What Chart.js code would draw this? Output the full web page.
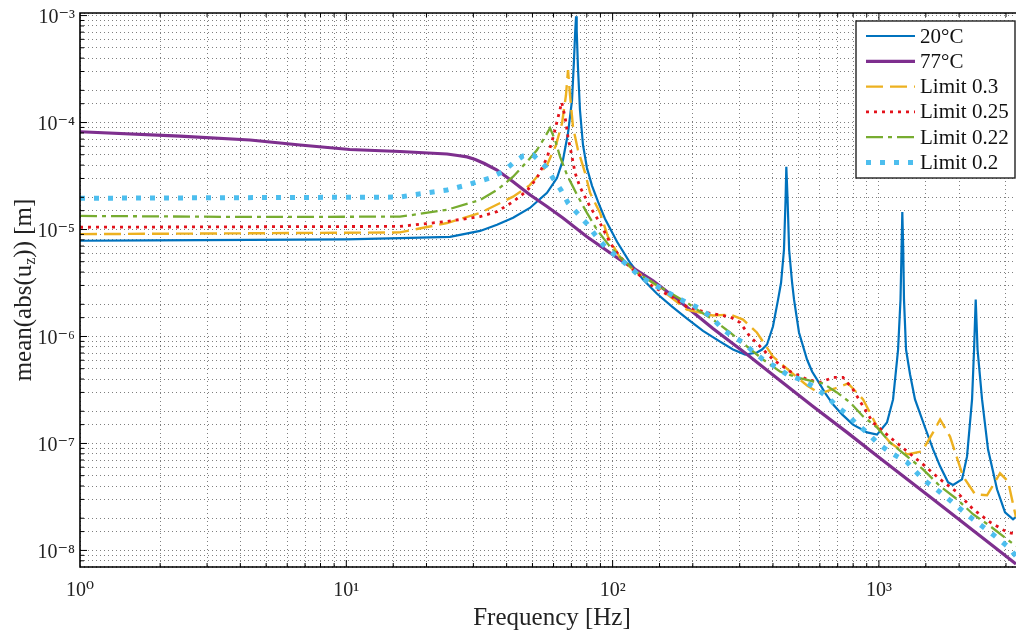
<!DOCTYPE html>
<html><head><meta charset="utf-8">
<script src="https://cdn.jsdelivr.net/npm/chart.js@4"></script>
<style>html,body{margin:0;padding:0;background:#fff}canvas{display:block}</style>
</head><body>
<canvas id="c" width="1016" height="634"></canvas>
<script>
// ---- data ----
const seriesLabels = ['20°C', '77°C', 'Limit 0.3', 'Limit 0.25', 'Limit 0.22', 'Limit 0.2'];

const f20 = [1, 1.83, 4.35, 10, 15.9, 24.5, 31.8, 36.8, 42.3, 48.9, 56.7, 61.8, 65.1, 68.0, 70.4, 71.6, 72.4, 72.9, 73.3, 74.1, 75.4, 77.4, 80.1, 83.7, 88.2, 93.6, 103.9, 116.3, 130.1, 146.8, 167.2, 190.3, 218.5, 253.2, 283.2, 314.4, 348.5, 364, 380, 400, 418, 429, 440, 446, 449, 454, 460, 472, 480, 501, 537, 561, 601, 633, 672, 727, 799, 864, 902, 984, 1072, 1130, 1180, 1205, 1216, 1224, 1234, 1242, 1264, 1309, 1366, 1490, 1597, 1697, 1818, 1898, 2051, 2142, 2237, 2276, 2309, 2346, 2439, 2568, 2776, 2975, 3188, 3271];
const v20 = [7.85e-6, 7.9e-6, 8.0e-6, 8.1e-6, 8.3e-6, 8.55e-6, 9.7e-6, 1.11e-5, 1.29e-5, 1.59e-5, 2.2e-5, 3.03e-5, 4.47e-5, 7.98e-5, 1.62e-4, 3.83e-4, 7.29e-4, 9.85e-4, 7.29e-4, 3.30e-4, 1.31e-4, 6.17e-5, 3.76e-5, 2.56e-5, 1.81e-5, 1.26e-5, 7.68e-6, 4.89e-6, 3.40e-6, 2.51e-6, 1.90e-6, 1.47e-6, 1.13e-6, 8.96e-7, 7.55e-7, 6.78e-7, 7.08e-7, 7.55e-7, 8.41e-7, 1.24e-6, 2.21e-6, 3.18e-6, 6.47e-6, 1.89e-5, 3.85e-5, 1.89e-5, 6.47e-6, 3.18e-6, 2.21e-6, 1.09e-6, 6.09e-7, 4.71e-7, 3.57e-7, 2.87e-7, 2.32e-7, 1.87e-7, 1.5e-7, 1.35e-7, 1.27e-7, 1.21e-7, 1.57e-7, 2.58e-7, 7.55e-7, 2.21e-6, 6.47e-6, 1.46e-5, 6.47e-6, 2.21e-6, 7.55e-7, 4.41e-7, 2.58e-7, 1.41e-7, 8.81e-8, 6.11e-8, 4.33e-8, 4.1e-8, 4.62e-8, 7.57e-8, 2.58e-7, 7.55e-7, 2.21e-6, 7.55e-7, 2.58e-7, 8.81e-8, 3.73e-8, 2.27e-8, 1.95e-8, 2.06e-8];

const f77 = [1, 2.37, 4.35, 6.70, 10.3, 15.9, 23.9, 26.2, 28.4, 30.5, 33, 36.8, 42.3, 48.9, 56.7, 65.1, 80.1, 106.6, 141.8, 179, 238, 320, 425, 566, 759, 1010, 1597, 2682, 3271];
const v77 = [8.2e-5, 7.48e-5, 6.87e-5, 6.17e-5, 5.6e-5, 5.36e-5, 5.08e-5, 4.92e-5, 4.77e-5, 4.52e-5, 4.14e-5, 3.6e-5, 2.8e-5, 2.11e-5, 1.64e-5, 1.28e-5, 8.55e-6, 5.22e-6, 3.32e-6, 2.12e-6, 1.19e-6, 6.78e-7, 3.88e-7, 2.22e-7, 1.27e-7, 7.26e-8, 3.01e-8, 1.1e-8, 7.45e-9];

const f03 = [1, 4.35, 15.9, 23.9, 31.8, 42.3, 48.9, 56.7, 61.3, 64.6, 66.8, 68.0, 69.2, 71.0, 74.1, 78.8, 82.3, 89.7, 96.1, 106.6, 119.3, 141.8, 164.3, 190, 213, 238, 276, 309, 348, 400, 464, 537, 601, 684, 766, 872, 984, 1101, 1275, 1451, 1597, 1697, 1849, 2069, 2296, 2547, 2849, 3053, 3271];
const v03 = [9.05e-6, 9.22e-6, 9.4e-6, 1.15e-5, 1.43e-5, 2.03e-5, 2.6e-5, 4.01e-5, 6.17e-5, 9.9e-5, 1.8e-4, 3.09e-4, 1.8e-4, 9.08e-5, 5.54e-5, 3.38e-5, 2.2e-5, 1.43e-5, 8.55e-6, 5.45e-6, 4.21e-6, 3.18e-6, 2.36e-6, 1.78e-6, 1.67e-6, 1.57e-6, 1.6e-6, 1.44e-6, 1.09e-6, 6.49e-7, 4.71e-7, 3.48e-7, 2.93e-7, 3.27e-7, 3.64e-7, 2.58e-7, 1.44e-7, 1.02e-7, 7.91e-8, 8.44e-8, 1.27e-7, 1.68e-7, 1.16e-7, 4.93e-8, 3.35e-8, 3.28e-8, 5.26e-8, 4.43e-8, 2.04e-8];

const f025 = [1, 15.9, 23.9, 31.8, 36.8, 42.3, 47.7, 52.0, 56.7, 59.7, 62.4, 64.4, 66.3, 68.0, 70.4, 72.3, 75.4, 82.3, 89.7, 97.8, 106.6, 119.3, 141.8, 168.6, 190, 226, 276, 301, 328, 358, 400, 464, 537, 601, 672, 733, 799, 872, 950, 1101, 1275, 1464, 1697, 1965, 2256, 2614, 3028, 3271];
const v025 = [1.05e-5, 1.07e-5, 1.19e-5, 1.32e-5, 1.47e-5, 1.82e-5, 2.3e-5, 3.04e-5, 4.67e-5, 7.17e-5, 1.12e-4, 1.55e-4, 1.12e-4, 7.32e-5, 4.77e-5, 3.38e-5, 2.5e-5, 1.63e-5, 1.15e-5, 7.52e-6, 5.56e-6, 4.21e-6, 2.92e-6, 2.31e-6, 1.9e-6, 1.67e-6, 1.53e-6, 1.35e-6, 9.98e-7, 8.05e-7, 6.09e-7, 4.71e-7, 3.96e-7, 3.72e-7, 4.14e-7, 4.14e-7, 3.2e-7, 2.22e-7, 1.57e-7, 1.14e-7, 8.44e-8, 6.38e-8, 4.62e-8, 3.5e-8, 2.43e-8, 1.84e-8, 1.48e-8, 1.42e-8];

const f022 = [1, 4.35, 15.9, 17.8, 23.9, 31.8, 36.8, 42.3, 47.7, 52.0, 55.7, 58.2, 60.8, 63.5, 67.4, 73.5, 80.1, 87.4, 97.8, 106.6, 123.5, 141.8, 164.3, 190, 213, 238, 276, 320, 367, 425, 493, 566, 617, 695, 779, 872, 984, 1101, 1275, 1464, 1697, 1965, 2256, 2614, 3028, 3271];
const v022 = [1.34e-5, 1.31e-5, 1.32e-5, 1.37e-5, 1.53e-5, 1.89e-5, 2.34e-5, 3.12e-5, 4.31e-5, 5.54e-5, 7.32e-5, 8.89e-5, 6.87e-5, 4.77e-5, 3.24e-5, 2.11e-5, 1.43e-5, 9.93e-6, 6.9e-6, 5.56e-6, 3.95e-6, 3.18e-6, 2.57e-6, 2.07e-6, 1.71e-6, 1.44e-6, 1.09e-6, 8.05e-7, 6.09e-7, 4.71e-7, 4.14e-7, 3.8e-7, 3.64e-7, 3.0e-7, 2.42e-7, 1.79e-7, 1.41e-7, 1.02e-7, 7.58e-8, 5.73e-8, 3.98e-8, 3.01e-8, 2.18e-8, 1.69e-8, 1.27e-8, 1.1e-8];

const f02 = [1, 15.9, 17.8, 23.9, 28.4, 34.6, 38.8, 42.3, 46.1, 50.2, 55.7, 59.7, 64.0, 68.0, 73.5, 80.1, 85.9, 93.6, 103.9, 113.3, 124.6, 138.2, 154.6, 171.6, 190, 213, 236, 260, 283, 309, 337, 367, 414, 452, 519, 566, 638, 695, 759, 827, 902, 984, 1101, 1275, 1464, 1697, 1965, 2256, 2614, 3028, 3271];
const v02 = [1.96e-5, 2.01e-5, 2.11e-5, 2.34e-5, 2.61e-5, 3.03e-5, 3.48e-5, 4.19e-5, 4.87e-5, 4.98e-5, 3.93e-5, 3.03e-5, 2.34e-5, 1.77e-5, 1.43e-5, 1.13e-5, 8.93e-6, 6.9e-6, 5.56e-6, 4.69e-6, 3.78e-6, 3.18e-6, 2.74e-6, 2.36e-6, 2.07e-6, 1.82e-6, 1.5e-6, 1.16e-6, 9.98e-7, 8.77e-7, 7.23e-7, 6.09e-7, 5.13e-7, 4.41e-7, 3.88e-7, 3.41e-7, 2.75e-7, 2.22e-7, 1.87e-7, 1.51e-7, 1.27e-7, 1.02e-7, 8.26e-8, 6.67e-8, 4.62e-8, 3.5e-8, 2.59e-8, 1.95e-8, 1.48e-8, 1.1e-8, 8.85e-9];

const xRange = [1, 3271];
const yRange = [7.14e-9, 1.057e-3];
const xMajorTicks = [1, 10, 100, 1000];
const yMajorTicks = [1e-8, 1e-7, 1e-6, 1e-5, 1e-4, 1e-3];
const xTitle = 'Frequency [Hz]';
const yTitle = ['mean(abs(u', 'z', ')) [m]'];

// ---- styling ----
const FONT = "'Liberation Serif', 'DejaVu Serif', serif";
const SUP = {'-': '\u207B', '0': '\u2070', '1': '\u00B9', '2': '\u00B2', '3': '\u00B3', '4': '\u2074', '5': '\u2075', '6': '\u2076', '7': '\u2077', '8': '\u2078', '9': '\u2079'};
function isMajor(v, list) { return list.some(m => Math.abs(Math.log10(v) - Math.log10(m)) < 1e-6); }
function powLabel(v, list) {
  if (!isMajor(v, list)) return '';
  const e = Math.round(Math.log10(v));
  return '10' + String(e).split('').map(c => SUP[c]).join('');
}
function pts(fs, vs) { return fs.map((x, i) => ({x: x, y: vs[i]})); }

const styles = [
  {color: '#0072BD', width: 2.2, dash: []},
  {color: '#7E2F8E', width: 3.2, dash: []},
  {color: '#EDB120', width: 2.4, dash: [17, 7]},
  {color: '#E3121B', width: 2.8, dash: [3, 5]},
  {color: '#77AC30', width: 2.3, dash: [17, 5, 4, 5]},
  {color: '#4DBEEE', width: 5, dash: [5, 9]}
];
const seriesData = [pts(f20, v20), pts(f77, v77), pts(f03, v03), pts(f025, v025), pts(f022, v022), pts(f02, v02)];

const datasets = seriesData.map((d, i) => ({
  label: seriesLabels[i],
  data: d,
  borderColor: styles[i].color,
  backgroundColor: styles[i].color,
  borderWidth: styles[i].width,
  borderDash: styles[i].dash,
  pointRadius: 0,
  tension: 0,
  fill: false,
  order: seriesLabels.length - i
}));

const framePlugin = {
  id: 'frame',
  afterDraw(chart) {
    const ctx = chart.ctx, a = chart.chartArea;
    const xs = chart.scales.x, ys = chart.scales.y;
    ctx.save();
    ctx.strokeStyle = '#000';
    ctx.lineWidth = 1;
    xs.ticks.forEach(t => {
      const px = xs.getPixelForValue(t.value);
      if (px < a.left + 1 || px > a.right - 1) return;
      const len = isMajor(t.value, xMajorTicks) ? 7 : 4;
      ctx.beginPath();
      ctx.moveTo(px, a.bottom); ctx.lineTo(px, a.bottom - len);
      ctx.moveTo(px, a.top); ctx.lineTo(px, a.top + len);
      ctx.stroke();
    });
    ys.ticks.forEach(t => {
      const py = ys.getPixelForValue(t.value);
      if (py < a.top + 1 || py > a.bottom - 1) return;
      const len = isMajor(t.value, yMajorTicks) ? 7 : 4;
      ctx.beginPath();
      ctx.moveTo(a.left, py); ctx.lineTo(a.left + len, py);
      ctx.stroke();
    });
    ctx.lineWidth = 1.6;
    ctx.beginPath();
    ctx.moveTo(a.right + 2, a.top); ctx.lineTo(a.left, a.top); ctx.lineTo(a.left, a.bottom); ctx.lineTo(a.right + 2, a.bottom);
    ctx.stroke();

    // axis titles
    ctx.fillStyle = '#222';
    ctx.font = '25px ' + FONT;
    ctx.textAlign = 'center';
    ctx.textBaseline = 'alphabetic';
    ctx.fillText(xTitle, 552, 625);

    ctx.save();
    ctx.translate(31, (a.top + a.bottom) / 2);
    ctx.rotate(-Math.PI / 2);
    ctx.font = '25px ' + FONT;
    const w0 = ctx.measureText(yTitle[0]).width;
    ctx.font = '16px ' + FONT;
    const w1 = ctx.measureText(yTitle[1]).width;
    ctx.font = '25px ' + FONT;
    const w2 = ctx.measureText(yTitle[2]).width;
    let x0 = -(w0 + w1 + w2) / 2;
    ctx.textAlign = 'left';
    ctx.fillText(yTitle[0], x0, 0);
    ctx.font = '16px ' + FONT;
    ctx.fillText(yTitle[1], x0 + w0, 4);
    ctx.font = '25px ' + FONT;
    ctx.fillText(yTitle[2], x0 + w0 + w1, 0);
    ctx.restore();

    // legend
    const lx = 856, ly = 21, lw = 159, lh = 157;
    ctx.fillStyle = '#fff';
    ctx.fillRect(lx, ly, lw, lh);
    ctx.lineWidth = 1.4;
    ctx.strokeStyle = '#222';
    ctx.strokeRect(lx, ly, lw, lh);
    ctx.font = '21px ' + FONT;
    ctx.textAlign = 'left';
    ctx.textBaseline = 'middle';
    chart.data.datasets.forEach((ds, i) => {
      const yy = 36 + i * 25.3;
      ctx.save();
      ctx.strokeStyle = ds.borderColor;
      ctx.lineWidth = ds.borderWidth;
      ctx.setLineDash(ds.borderDash);
      ctx.beginPath();
      ctx.moveTo(866, yy); ctx.lineTo(915, yy);
      ctx.stroke();
      ctx.restore();
      ctx.fillStyle = '#111';
      ctx.fillText(ds.label, 920, yy + 1);
    });
    ctx.restore();
  }
};

new Chart(document.getElementById('c'), {
  type: 'line',
  data: {datasets: datasets},
  options: {
    responsive: false,
    animation: false,
    devicePixelRatio: 1,
    layout: {padding: {top: 13, right: 0, left: 0, bottom: 0}},
    plugins: {legend: {display: false}, tooltip: {enabled: false}},
    scales: {
      x: {
        type: 'logarithmic',
        min: xRange[0], max: xRange[1],
        afterFit: s => { s.height = 67; s.paddingLeft = 0; s.paddingRight = 0; },
        grid: {color: 'rgba(0,0,0,0.5)', lineWidth: 1, drawTicks: false},
        border: {display: false, dash: [1, 3]},
        ticks: {
          autoSkip: false, maxRotation: 0, padding: 12,
          color: '#222', font: {family: FONT, size: 20},
          callback: v => powLabel(v, xMajorTicks)
        }
      },
      y: {
        type: 'logarithmic',
        min: yRange[0], max: yRange[1],
        afterFit: s => { s.width = 80; s.paddingTop = 0; s.paddingBottom = 0; },
        grid: {color: 'rgba(0,0,0,0.5)', lineWidth: 1, drawTicks: false},
        border: {display: false, dash: [1, 3]},
        ticks: {
          autoSkip: false, padding: 5, labelOffset: 2,
          color: '#222', font: {family: FONT, size: 20},
          callback: v => powLabel(v, yMajorTicks)
        }
      }
    }
  },
  plugins: [framePlugin]
});
</script>
</body></html>
